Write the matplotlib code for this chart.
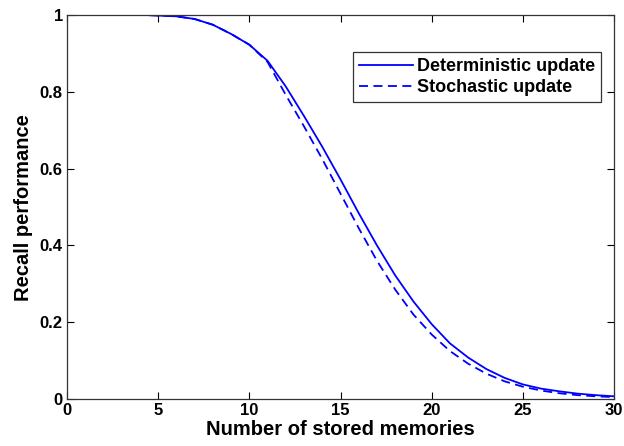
import numpy as np
import matplotlib
matplotlib.use("Agg")
import matplotlib.pyplot as plt
from matplotlib.ticker import FuncFormatter

# recall curves vs. number of stored memories
memories = [4.5, 5, 6, 7, 8, 9, 10, 11, 12, 13, 14, 15, 16, 17, 18,
            19, 20, 21, 22, 23, 24, 25, 26, 27, 28, 29, 30]
recall_det = [1.0, 0.999, 0.997, 0.99, 0.975, 0.951, 0.923, 0.881, 0.814,
              0.737, 0.657, 0.572, 0.484, 0.40, 0.322, 0.254, 0.195, 0.145,
              0.108, 0.078, 0.055, 0.038, 0.027, 0.020, 0.014, 0.010, 0.007]
recall_sto = [1.0, 0.999, 0.997, 0.99, 0.975, 0.951, 0.923, 0.878, 0.792,
              0.71, 0.625, 0.535, 0.445, 0.36, 0.285, 0.22, 0.168, 0.125,
              0.092, 0.066, 0.046, 0.032, 0.022, 0.015, 0.010, 0.007, 0.005]

plt.rcParams['font.family'] = ['Liberation Sans', 'DejaVu Sans']
plt.rcParams['font.weight'] = 'bold'

fig = plt.figure(figsize=(6.24, 4.46), dpi=100)
ax = fig.add_axes([0.1074, 0.1054, 0.8766, 0.8606])

ax.plot(memories, recall_det, '-', color='#0000ff', lw=1.3, label='Deterministic update')
ax.plot(memories, recall_sto, '--', color='#0000ff', lw=1.3, label='Stochastic update',
        dashes=(5, 3))

ax.set_xlim(0, 30)
ax.set_ylim(0, 1)
ax.set_xticks(np.arange(0, 31, 5))
ax.set_yticks(np.arange(0, 1.01, 0.2))
ax.yaxis.set_major_formatter(FuncFormatter(lambda v, p: f"{v:g}"))
ax.tick_params(direction='in', length=5, width=0.8, top=True, right=True,
               labelsize=12, pad=3)
for lab in ax.get_xticklabels() + ax.get_yticklabels():
    lab.set_fontweight('bold')
for s in ax.spines.values():
    s.set_linewidth(0.9)
    s.set_color('#333333')

ax.set_xlabel('Number of stored memories', fontsize=14.5, fontweight='bold', labelpad=1)
ax.set_ylabel('Recall performance', fontsize=14.5, fontweight='bold', labelpad=5)

leg = ax.legend(loc='upper left', bbox_to_anchor=(0.522, 0.904), fontsize=13,
                fancybox=False, framealpha=1, edgecolor='#333333',
                handlelength=3.0, handletextpad=0.2, borderpad=0.35,
                labelspacing=0.2, borderaxespad=0)
leg.get_frame().set_linewidth(0.9)
for t in leg.get_texts():
    t.set_fontweight('bold')

fig.savefig('out.png', dpi=100)
